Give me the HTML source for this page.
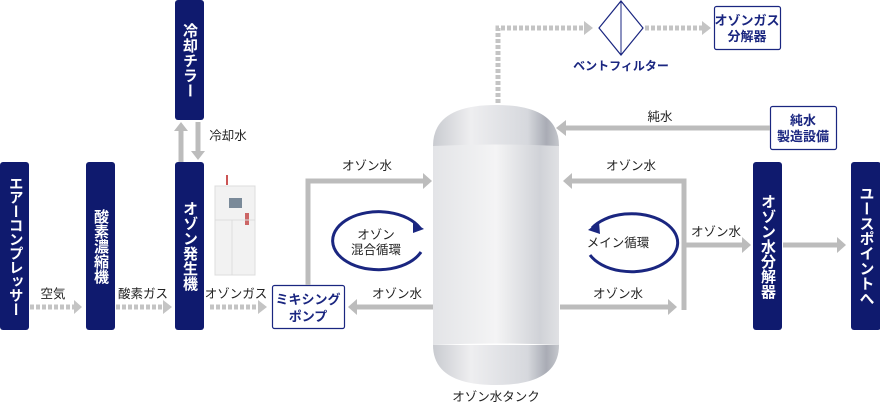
<!DOCTYPE html><html><head><meta charset="utf-8"><style>
body{margin:0;width:880px;height:404px;background:#fff;overflow:hidden;font-family:"Liberation Sans","Noto Sans CJK JP",sans-serif;position:relative}
svg text{font-family:"Liberation Sans","Noto Sans CJK JP",sans-serif}
.v{position:absolute;background:#0f1a6e;border-radius:3px;color:#fff;font-weight:bold;font-size:15px;display:flex;align-items:center;justify-content:center}
.v span{writing-mode:vertical-rl;line-height:1;letter-spacing:0}
svg{position:absolute;left:0;top:0}
</style></head><body>
<svg width="880" height="404" viewBox="0 0 880 404" xmlns="http://www.w3.org/2000/svg">
<defs>
<linearGradient id="tg" x1="0" x2="1"><stop offset="0" stop-color="#c9cbd0"/><stop offset=".3" stop-color="#eeeef0"/><stop offset=".75" stop-color="#d6d8dd"/><stop offset=".9" stop-color="#a9acb5"/><stop offset="1" stop-color="#c5c7cc"/></linearGradient>
<linearGradient id="tb" x1="0" x2="1"><stop offset="0" stop-color="#e3e4e7"/><stop offset=".5" stop-color="#f4f4f5"/><stop offset=".85" stop-color="#d0d2d7"/><stop offset="1" stop-color="#e0e1e4"/></linearGradient>
</defs>
<g fill="#fff" stroke="#1a2680" stroke-width="1.2">
<rect x="272.5" y="285.5" width="72" height="43" rx="2"/>
<rect x="714.5" y="6.5" width="66" height="43" rx="2"/>
<rect x="770.5" y="106.5" width="66" height="43" rx="2"/>
</g>
<g fill="#1a2680" font-size="13" font-weight="bold" text-anchor="middle">
<text x="308" y="304">ミキシング</text><text x="308" y="321">ポンプ</text>
<text x="747" y="25">オゾンガス</text><text x="747" y="41">分解器</text>
<text x="803" y="125">純水</text><text x="803" y="141">製造設備</text>
<text x="621" y="70" font-size="12">ベントフィルター</text>
</g>
<g stroke="#c4c4c4" stroke-width="5" fill="none" stroke-dasharray="4 2">
<line x1="30" y1="307" x2="74" y2="307"/><line x1="116" y1="307" x2="163" y2="307"/><line x1="210" y1="307" x2="258" y2="307"/>
<polyline points="498,103 498,28 585,28"/><line x1="645" y1="28" x2="703" y2="28"/>
</g>
<g fill="#c4c4c4">
<polygon points="74,300 82,307 74,314"/><polygon points="163,300 172,307 163,314"/><polygon points="258,300 267,307 258,314"/>
<polygon points="584,21 593,28 584,35"/><polygon points="702,21 711,28 702,35"/>
</g>
<g stroke="#bcbcbc" stroke-width="5" fill="none">
<line x1="181" y1="162" x2="181" y2="130"/><line x1="198" y1="122" x2="198" y2="152"/>
<polyline points="308,285 308,181 423,181"/>
<line x1="433" y1="307" x2="357" y2="307"/>
<line x1="560" y1="307" x2="668" y2="307"/>
<polyline points="684,310 684,181 572,181"/>
<line x1="684" y1="245" x2="742" y2="245"/>
<line x1="783" y1="245" x2="837" y2="245"/>
<line x1="770" y1="128" x2="566" y2="128"/>
</g>
<g fill="#bcbcbc">
<polygon points="174,131 181,122 188,131"/><polygon points="191,151 198,160 205,151"/>
<polygon points="423,173 432,181 423,189"/><polygon points="357,299 348,307 357,315"/>
<polygon points="668,299 677,307 668,315"/><polygon points="572,173 563,181 572,189"/>
<polygon points="742,237 751,245 742,253"/><polygon points="837,237 846,245 837,253"/>
<polygon points="566,120 556,128 566,136"/>
</g>
<polygon points="621,1 643,28 621,55 599,28" fill="#fff" stroke="#1a2680" stroke-width="1.2"/>
<line x1="621" y1="1" x2="621" y2="55" stroke="#1a2680" stroke-width="1"/>
<path d="M433,146 Q433,105 496,105 Q559,105 559,146 Z" fill="url(#tg)"/>
<path d="M433,345 Q433,385 496,385 Q559,385 559,345 Z" fill="url(#tg)"/>
<path d="M433,146 Q496,143 559,146 L559,345 Q496,342 433,345 Z" fill="url(#tb)"/>
<rect x="215" y="186" width="40" height="89" fill="#f2f2f2" stroke="#ddd"/>
<rect x="229" y="198" width="13" height="10" fill="#7a8a99"/><rect x="245" y="213" width="4" height="12" fill="#c66"/>
<line x1="215" y1="220" x2="255" y2="220" stroke="#ddd"/><line x1="232" y1="220" x2="232" y2="275" stroke="#ddd"/>
<rect x="226" y="175" width="2" height="10" fill="#c55"/>
<g fill="none" stroke="#1a2680" stroke-width="3">
<path d="M420,228 A46,29 0 1 0 421,252"/>
<path d="M592,228 A46,29 0 1 1 590,255"/>
</g>
<polygon points="413,222 424,229 413,233" fill="#1a2680"/>
<polygon points="599,222 588,230 600,234" fill="#1a2680"/>
<g fill="#222" font-size="12.5" text-anchor="middle">
<text x="376" y="239">オゾン</text><text x="376" y="254">混合循環</text>
<text x="618" y="247">メイン循環</text>
<text x="53" y="298">空気</text><text x="143" y="298">酸素ガス</text><text x="236" y="298">オゾンガス</text>
<text x="228" y="140">冷却水</text>
<text x="367" y="170">オゾン水</text><text x="397" y="298">オゾン水</text>
<text x="631" y="170">オゾン水</text><text x="618" y="298">オゾン水</text>
<text x="716" y="236">オゾン水</text><text x="660" y="121">純水</text>
<text x="496" y="401">オゾン水タンク</text>
</g>
</svg>
<div class="v" style="left:0;top:162px;width:29px;height:168px"><span style="font-size:14.5px;letter-spacing:-0.5px">エアーコンプレッサー</span></div>
<div class="v" style="left:86px;top:162px;width:29px;height:168px"><span>酸素濃縮機</span></div>
<div class="v" style="left:175px;top:162px;width:29px;height:168px"><span>オゾン発生機</span></div>
<div class="v" style="left:175px;top:0;width:29px;height:120px"><span>冷却チラー</span></div>
<div class="v" style="left:753px;top:162px;width:29px;height:168px"><span>オゾン水分解器</span></div>
<div class="v" style="left:851px;top:162px;width:30px;height:168px"><span>ユースポイントへ</span></div>
</body></html>
